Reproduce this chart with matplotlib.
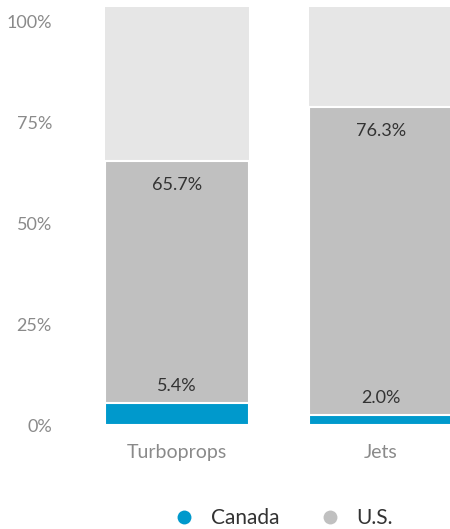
import matplotlib.pyplot as plt
from matplotlib.lines import Line2D

plt.rcParams['font.family'] = ['Lato', 'DejaVu Sans']

# dados
categorias = ['Turboprops', 'Jets']
canada = [5.4, 2.4]        # altura
us = [60.0, 76.3]          # altura
rotulos_canada = ['5.4%', '2.0%']
rotulos_us = ['65.7%', '76.3%']
topo = 103.5               # barra de fundo
yticks = [0, 25, 50, 75, 100]
ytick_labels = ['0%', '25%', '50%', '75%', '100%']

cor_canada = '#0099cc'
cor_us = '#c0c0c0'
cor_fundo = '#e6e6e6'

fig = plt.figure(figsize=(4.5, 5.29), dpi=100)
ax = fig.add_axes([95 / 450, 104 / 529, 355 / 450, 418 / 529])

x = list(range(len(categorias)))
largura = 0.706

ax.bar(x, [topo] * len(x), width=largura, color=cor_fundo, edgecolor='none')
ax.bar(x, [c + u for c, u in zip(canada, us)], width=largura, color=cor_us,
       edgecolor='white', linewidth=1.5)
ax.bar(x, canada, width=largura, color=cor_canada, edgecolor='white', linewidth=1.5)

for i in x:
    ax.annotate(rotulos_us[i], (i, canada[i] + us[i]), xytext=(0, -17.5),
                textcoords='offset points', ha='center', va='center',
                fontsize=13, color='#333333')
    ax.annotate(rotulos_canada[i], (i, canada[i]), xytext=(0, 12.5),
                textcoords='offset points', ha='center', va='center',
                fontsize=13, color='#333333')

ax.set_xlim(-0.402, 1.338)
ax.set_ylim(0, topo)
ax.set_xticks(x)
ax.set_xticklabels(categorias, fontsize=14, color='#8a8a8a')
ax.set_yticks(yticks)
ax.set_yticklabels(ytick_labels, fontsize=13, color='#8a8a8a')
ax.tick_params(axis='y', length=0, pad=31)
ax.tick_params(axis='x', length=0, pad=14)
for s in ax.spines.values():
    s.set_visible(False)

handles = [Line2D([], [], marker='o', linestyle='none', markersize=10,
                  markerfacecolor=cor_canada, markeredgecolor='none', label='Canada'),
           Line2D([], [], marker='o', linestyle='none', markersize=10,
                  markerfacecolor=cor_us, markeredgecolor='none', label='U.S.')]
fig.legend(handles=handles, loc='center', bbox_to_anchor=(0.618, 0.02), ncol=2,
           frameon=False, fontsize=15, handletextpad=0.3, columnspacing=1.4,
           labelcolor='#333333')

fig.savefig('out.png', dpi=100)
